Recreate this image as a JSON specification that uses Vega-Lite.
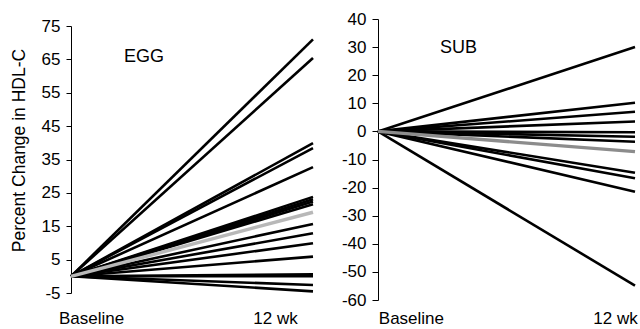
{
  "$schema": "https://vega.github.io/schema/vega-lite/v6.json",
  "padding": {"left": 10, "top": 10, "right": 5, "bottom": 2},
  "bounds": "flush",
  "center": true,
  "spacing": 65,
  "config": {
    "view": {"stroke": null},
    "font": "Liberation Sans",
    "axis": {
      "grid": false,
      "domainColor": "#000000",
      "tickColor": "#000000",
      "labelColor": "#000000",
      "labelFontSize": 17,
      "labelFont": "Liberation Sans",
      "titleColor": "#000000",
      "titleFont": "Liberation Sans",
      "titleFontWeight": "normal"
    },
    "title": {"font": "Liberation Sans", "fontWeight": "normal", "color": "#000000"}
  },
  "datasets": {
    "egg": [
      {"id": "e1", "kind": "ind", "t": 0, "v": 0}, {"id": "e1", "kind": "ind", "t": 1, "v": 71},
      {"id": "e2", "kind": "ind", "t": 0, "v": 0}, {"id": "e2", "kind": "ind", "t": 1, "v": 65.4},
      {"id": "e3", "kind": "ind", "t": 0, "v": 0}, {"id": "e3", "kind": "ind", "t": 1, "v": 39.9},
      {"id": "e4", "kind": "ind", "t": 0, "v": 0}, {"id": "e4", "kind": "ind", "t": 1, "v": 38.4},
      {"id": "e5", "kind": "ind", "t": 0, "v": 0}, {"id": "e5", "kind": "ind", "t": 1, "v": 32.7},
      {"id": "e6", "kind": "ind", "t": 0, "v": 0}, {"id": "e6", "kind": "ind", "t": 1, "v": 23.8},
      {"id": "e7", "kind": "ind", "t": 0, "v": 0}, {"id": "e7", "kind": "ind", "t": 1, "v": 23.1},
      {"id": "e8", "kind": "ind", "t": 0, "v": 0}, {"id": "e8", "kind": "ind", "t": 1, "v": 22.4},
      {"id": "e9", "kind": "ind", "t": 0, "v": 0}, {"id": "e9", "kind": "ind", "t": 1, "v": 21.6},
      {"id": "e10", "kind": "ind", "t": 0, "v": 0}, {"id": "e10", "kind": "ind", "t": 1, "v": 15.7},
      {"id": "e11", "kind": "ind", "t": 0, "v": 0}, {"id": "e11", "kind": "ind", "t": 1, "v": 12.9},
      {"id": "e12", "kind": "ind", "t": 0, "v": 0}, {"id": "e12", "kind": "ind", "t": 1, "v": 9.9},
      {"id": "e13", "kind": "ind", "t": 0, "v": 0}, {"id": "e13", "kind": "ind", "t": 1, "v": 5.9},
      {"id": "e14", "kind": "ind", "t": 0, "v": 0}, {"id": "e14", "kind": "ind", "t": 1, "v": 0.6},
      {"id": "e15", "kind": "ind", "t": 0, "v": 0}, {"id": "e15", "kind": "ind", "t": 1, "v": 0.0},
      {"id": "e16", "kind": "ind", "t": 0, "v": 0}, {"id": "e16", "kind": "ind", "t": 1, "v": -2.6},
      {"id": "e17", "kind": "ind", "t": 0, "v": 0}, {"id": "e17", "kind": "ind", "t": 1, "v": -4.5},
      {"id": "em", "kind": "mean", "t": 0, "v": 0}, {"id": "em", "kind": "mean", "t": 1, "v": 19.2}
    ],
    "sub": [
      {"id": "s1", "kind": "ind", "t": 0, "v": 0}, {"id": "s1", "kind": "ind", "t": 1, "v": 30},
      {"id": "s2", "kind": "ind", "t": 0, "v": 0}, {"id": "s2", "kind": "ind", "t": 1, "v": 10.2},
      {"id": "s3", "kind": "ind", "t": 0, "v": 0}, {"id": "s3", "kind": "ind", "t": 1, "v": 7.0},
      {"id": "s4", "kind": "ind", "t": 0, "v": 0}, {"id": "s4", "kind": "ind", "t": 1, "v": 3.5},
      {"id": "s5", "kind": "ind", "t": 0, "v": 0}, {"id": "s5", "kind": "ind", "t": 1, "v": -0.3},
      {"id": "s6", "kind": "ind", "t": 0, "v": 0}, {"id": "s6", "kind": "ind", "t": 1, "v": -1.9},
      {"id": "s7", "kind": "ind", "t": 0, "v": 0}, {"id": "s7", "kind": "ind", "t": 1, "v": -3.7},
      {"id": "s8", "kind": "ind", "t": 0, "v": 0}, {"id": "s8", "kind": "ind", "t": 1, "v": -14.7},
      {"id": "s9", "kind": "ind", "t": 0, "v": 0}, {"id": "s9", "kind": "ind", "t": 1, "v": -16.7},
      {"id": "s10", "kind": "ind", "t": 0, "v": 0}, {"id": "s10", "kind": "ind", "t": 1, "v": -21.5},
      {"id": "s11", "kind": "ind", "t": 0, "v": 0}, {"id": "s11", "kind": "ind", "t": 1, "v": -54.9},
      {"id": "sm", "kind": "mean", "t": 0, "v": 0}, {"id": "sm", "kind": "mean", "t": 1, "v": -7.2}
    ]
  },
  "hconcat": [
    {
      "width": 242,
      "height": 267,
      "title": {"text": "EGG", "anchor": "start", "frame": "group", "dx": 53, "dy": 63, "offset": 0, "fontSize": 18, "baseline": "alphabetic"},
      "data": {"name": "egg"},
      "encoding": {
        "x": {"field": "t", "type": "quantitative", "scale": {"domain": [0, 1]},
          "axis": {"values": [0.083, 0.843], "labelExpr": "datum.value < 0.5 ? 'Baseline' : '12 wk'", "ticks": false, "domain": false, "labelPadding": 17, "title": null, "labelFlush": false}},
        "y": {"field": "v", "type": "quantitative", "scale": {"domain": [-5, 75], "nice": false, "zero": false},
          "axis": {"values": [-5, 5, 15, 25, 35, 45, 55, 65, 75], "labelExpr": "'' + datum.value", "tickSize": 5, "labelPadding": 6, "title": "Percent Change in HDL-C", "titleFontSize": 17.5, "titlePadding": 13, "titleY": 124}},
        "detail": {"field": "id"}
      },
      "layer": [
        {"transform": [{"filter": "datum.kind == 'ind'"}], "mark": {"type": "line", "color": "#000000", "strokeWidth": 2.6}},
        {"transform": [{"filter": "datum.kind == 'mean'"}], "mark": {"type": "line", "color": "#b8b8b8", "strokeWidth": 3.4}}
      ]
    },
    {
      "width": 257,
      "height": 281,
      "title": {"text": "SUB", "anchor": "start", "frame": "group", "dx": 62, "dy": 61, "offset": 0, "fontSize": 18, "baseline": "alphabetic"},
      "data": {"name": "sub"},
      "encoding": {
        "x": {"field": "t", "type": "quantitative", "scale": {"domain": [0, 1]},
          "axis": {"values": [0.128, 0.922], "labelExpr": "datum.value < 0.5 ? 'Baseline' : '12 wk'", "ticks": false, "domain": false, "labelPadding": 10, "title": null, "labelFlush": false}},
        "y": {"field": "v", "type": "quantitative", "scale": {"domain": [-60, 40], "nice": false, "zero": false},
          "axis": {"values": [-60, -50, -40, -30, -20, -10, 0, 10, 20, 30, 40], "labelExpr": "'' + datum.value", "tickSize": 6, "labelPadding": 6, "title": null}},
        "detail": {"field": "id"}
      },
      "layer": [
        {"transform": [{"filter": "datum.kind == 'ind'"}], "mark": {"type": "line", "color": "#000000", "strokeWidth": 2.6}},
        {"transform": [{"filter": "datum.kind == 'mean'"}], "mark": {"type": "line", "color": "#8c8c8c", "strokeWidth": 3.4}}
      ]
    }
  ]
}
